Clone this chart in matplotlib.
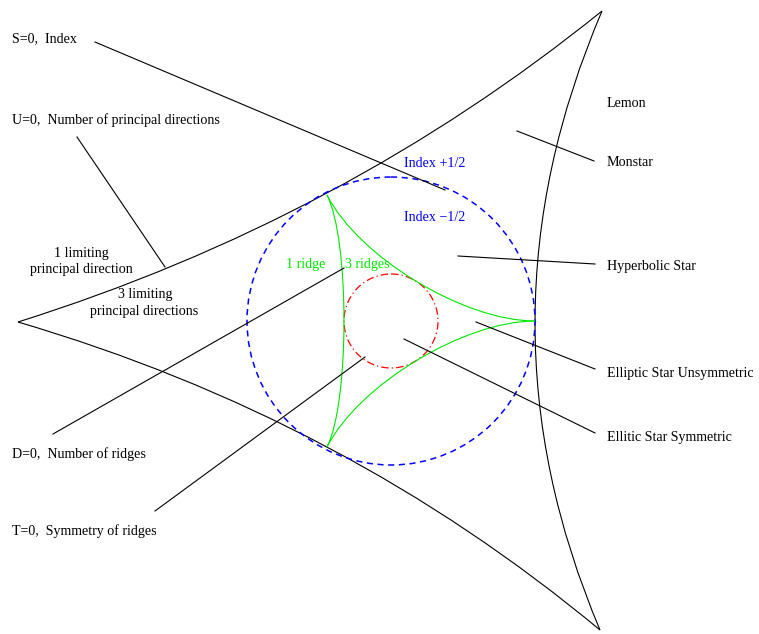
import matplotlib
matplotlib.use('Agg')
import matplotlib.pyplot as plt
import numpy as np
from matplotlib.path import Path
from matplotlib.patches import PathPatch, Circle

# Picture coordinates (pixels, y pointing down)
W, H = 759, 634

# Outer curved triangle: cusps and the points where each side touches the circle
outer_cusps = [(18, 322), (602, 11), (600, 630)]
outer_touch = [(327, 193), (535, 321), (327, 447)]   # side 0-1, 1-2, 2-0

# Blue dashed circle and red dash-dot circle
center = (391, 321)
big_r = 144
small_r = 47

# Green three-cusped curve (cusps on the big circle)
green_cusps = [(535, 321), (327, 195), (327, 447)]

# Annotation segments
lines_xy = [
    ((95, 42), (445, 190)),     # S=0
    ((77, 137), (165, 267)),    # U=0
    ((53, 434), (344, 268)),    # D=0
    ((155, 511), (365, 357)),   # T=0
    ((517, 131), (594, 161)),   # Monstar
    ((458, 256), (595, 264)),   # Hyperbolic Star
    ((476, 322), (595, 369)),   # Elliptic Star Unsymmetric
    ((404, 339), (595, 433)),   # Ellitic Star Symmetric
]

left_labels = ['S=0,  Index', 'U=0,  Number of principal directions',
               'D=0,  Number of ridges', 'T=0,  Symmetry of ridges']
left_y = [42, 124, 458, 535]

right_labels = ['Lemon', 'Monstar', 'Hyperbolic Star',
                'Elliptic Star Unsymmetric', 'Ellitic Star Symmetric']
right_y = [107, 166, 270, 377, 441]

fs = 10.1
font = 'Liberation Serif'
green = '#00e600'
blue = '#0000ff'

fig = plt.figure(figsize=(W / 100, H / 100), dpi=100)
ax = fig.add_axes([0, 0, 1, 1])
ax.set_xlim(0, W)
ax.set_ylim(H, 0)
ax.axis('off')

# outer sides as quadratic curves through the touch points
for i in range(3):
    p0 = np.array(outer_cusps[i], float)
    p2 = np.array(outer_cusps[(i + 1) % 3], float)
    m = np.array(outer_touch[i], float)
    c = 2 * m - (p0 + p2) / 2
    path = Path([p0, c, p2], [Path.MOVETO, Path.CURVE3, Path.CURVE3])
    ax.add_patch(PathPatch(path, fill=False, color='black', lw=0.8))

ax.add_patch(Circle(center, big_r, fill=False, color=blue, lw=1.1,
                    linestyle=(0, (4, 3))))
ax.add_patch(Circle(center, small_r, fill=False, color='#ff0000', lw=0.9,
                    linestyle=(0, (6, 2.5, 1, 2.5))))

# green arcs: cubic curves from cusp to cusp, tangent towards the centre,
# touching the small circle at the middle
cc = np.array(center, float)
for i in range(3):
    a = np.array(green_cusps[i], float) - cc
    b = np.array(green_cusps[(i + 1) % 3], float) - cc
    half = np.linalg.norm((a + b) / 2)
    k = (1 - small_r / half) * 4 / 3
    pts = [a, a * (1 - k), b * (1 - k), b]
    pts = [p + cc for p in pts]
    path = Path(pts, [Path.MOVETO, Path.CURVE4, Path.CURVE4, Path.CURVE4])
    ax.add_patch(PathPatch(path, fill=False, color=green, lw=0.8))

for (x0, y0), (x1, y1) in lines_xy:
    ax.plot([x0, x1], [y0, y1], color='black', lw=0.8)

for lab, y in zip(left_labels, left_y):
    ax.text(12, y, lab, fontsize=fs, family=font, va='baseline', ha='left')
for lab, y in zip(right_labels, right_y):
    ax.text(607, y, lab, fontsize=fs, family=font, va='baseline', ha='left')

ax.text(81, 257, '1 limiting', fontsize=fs, family=font, va='baseline', ha='center')
ax.text(81, 273, 'principal direction', fontsize=fs, family=font, va='baseline', ha='center')
ax.text(145, 298, '3 limiting', fontsize=fs, family=font, va='baseline', ha='center')
ax.text(144, 315, 'principal directions', fontsize=fs, family=font, va='baseline', ha='center')

ax.text(404, 167, 'Index +1/2', fontsize=fs, family=font, color=blue, va='baseline')
ax.text(404, 221, 'Index \u22121/2', fontsize=fs, family=font, color=blue, va='baseline')
ax.text(286, 268, '1 ridge', fontsize=fs, family=font, color=green, va='baseline')
ax.text(345, 268, '3 ridges', fontsize=fs, family=font, color=green, va='baseline')

fig.savefig('out.png', dpi=100)
